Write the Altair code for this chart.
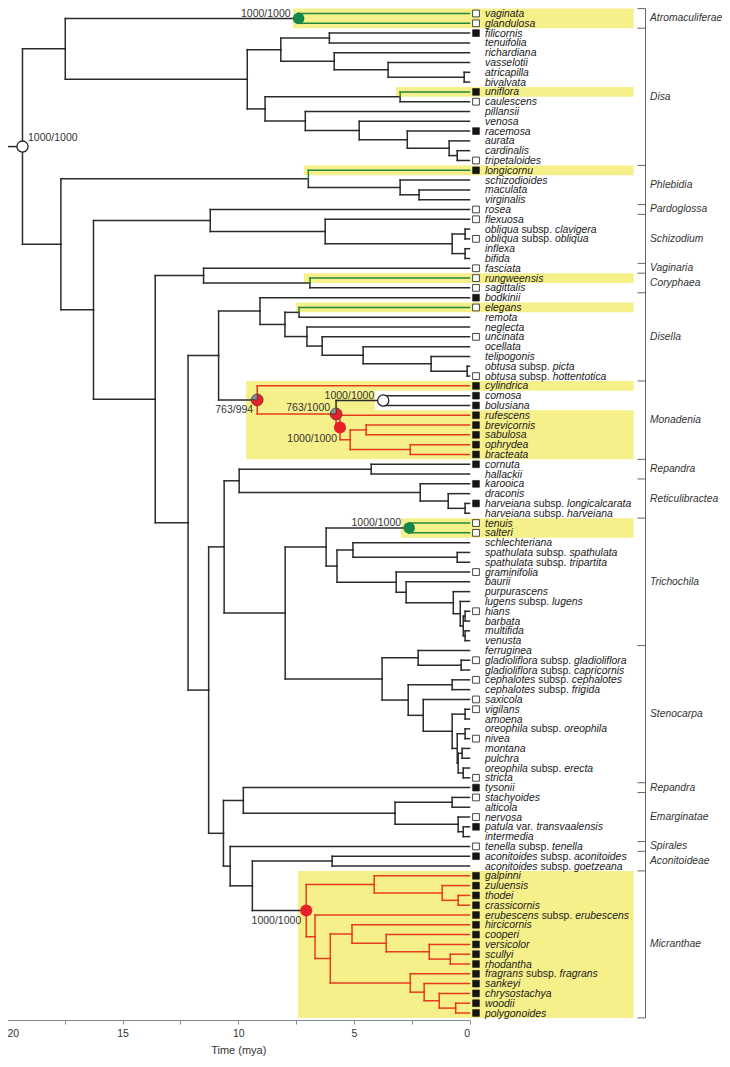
import math
import altair as alt
import pandas as pd

FONT = "Liberation Sans"

# ------------------------------------------------------------------ data
def cl(age, *kids):
    return "(" + ",".join(kids) + ")" + str(age)

ATROM = cl(7.39, "vaginata", "glandulosa")
DISA = cl(9.61,
          cl(8.16, cl(6.06, "filicornis", "tenuifolia"),
             cl(5.85, "richardiana", cl(3.52, "vasselotii", cl(0.23, "atricapilla", "bivalvata")))),
          cl(8.84, cl(3.0, "uniflora", "caulescens"),
             cl(7.1, "pillansii", cl(4.77, "venosa", cl(2.69, "racemosa",
                cl(0.88, "aurata", cl(0.53, "cardinalis", "tripetaloides")))))))
PHLEB = cl(6.97, "longicornu", cl(3.0, "schizodioides", cl(2.18, "maculata", "virginalis")))
SCHIZ = cl(6.24, "flexuosa", cl(0.75, cl(0.19, "obliqua subsp. clavigera", "obliqua subsp. obliqua"),
                                 cl(0.19, "inflexa", "bifida")))
CORY = cl(6.9, "rungweensis", "sagittalis")
DISELLA = cl(9.06, "bodkinii",
             cl(7.98, cl(7.37, "elegans", "remota"),
                cl(7.03, "neglecta", cl(6.37, "uncinata", cl(4.6, "ocellata",
                   cl(1.66, "telipogonis", cl(0.1, "obtusa subsp. picta", "obtusa subsp. hottentotica")))))))
MONAD = cl(9.18, "cylindrica",
           cl(5.77, cl(3.73, "comosa", "bolusiana"),
              cl(5.6, "rufescens", cl(5.16, cl(4.47, "brevicornis", "sabulosa"),
                                        cl(2.56, "ophrydea", "bracteata")))))
REPAN = cl(4.25, "cornuta", "hallackii")
RETIC = cl(2.13, "karooica", cl(0.92, "draconis",
           cl(0.19, "harveiana subsp. longicalcarata", "harveiana subsp. harveiana")))
TRICHO = cl(6.2, cl(2.61, "tenuis", "salteri"),
            cl(5.73, cl(5.04, "schlechteriana", cl(0.53, "spathulata subsp. spathulata", "spathulata subsp. tripartita")),
               cl(3.17, "graminifolia", cl(2.74, "baurii", cl(0.7, "purpurascens",
                  cl(0.4, "lugens subsp. lugens", cl(0.27, cl(0.19, "hians", "barbata"),
                                                         cl(0.19, "multifida", "venusta"))))))))
STENO = cl(3.78, cl(2.22, "ferruginea", cl(0.36, "gladioliflora subsp. gladioliflora", "gladioliflora subsp. capricornis")),
           cl(2.65, cl(0.75, "cephalotes subsp. cephalotes", "cephalotes subsp. frigida"),
              cl(2.0, "saxicola", cl(0.75, cl(0.19, "vigilans", "amoena"),
                 cl(0.53, cl(0.19, "oreophila subsp. oreophila", "nivea"),
                    cl(0.49, cl(0.32, "montana", "pulchra"), cl(0.27, "oreophila subsp. erecta", "stricta")))))))
EMARG = cl(3.22, cl(0.75, "stachyoides", "alticola"),
           cl(0.49, "nervosa", cl(0.27, "patula var. transvaalensis", "intermedia")))
ACONIT = cl(5.94, "aconitoides subsp. aconitoides", "aconitoides subsp. goetzeana")
MICRAN = cl(7.06, cl(4.12, "galpinni", cl(1.18, "zuluensis", cl(0.49, "thodei", "crassicornis"))),
            cl(6.68, "erubescens subsp. erubescens",
               cl(6.02, cl(5.08, "hircicornis", cl(3.6, "cooperi", cl(1.74, "versicolor", cl(0.83, "scullyi", "rhodantha")))),
                  cl(2.56, "fragrans subsp. fragrans", cl(1.96, "sankeyi",
                     cl(1.31, "chrysostachya", cl(0.6, "woodii", "polygonoides")))))))

TREE = cl(19.33,
          cl(17.48, ATROM, DISA),
          cl(17.67, PHLEB,
             cl(16.26, cl(11.21, "rosea", SCHIZ),
                cl(13.59, cl(11.5, "fasciata", CORY),
                   cl(12.17, cl(10.85, DISELLA, MONAD),
                      cl(11.28,
                         cl(10.61, cl(9.96, REPAN, RETIC), cl(7.97, TRICHO, STENO)),
                         cl(10.64, cl(9.78, "tysonii", EMARG),
                            cl(10.35, "tenella subsp. tenella", cl(9.39, ACONIT, MICRAN)))))))))

FILLED_TIPS = ["filicornis", "uniflora", "racemosa", "longicornu", "bodkinii", "cylindrica", "comosa",
               "bolusiana", "rufescens", "brevicornis", "sabulosa", "ophrydea", "bracteata", "cornuta",
               "karooica", "harveiana subsp. longicalcarata", "tysonii", "patula var. transvaalensis",
               "aconitoides subsp. aconitoides", "galpinni", "zuluensis", "thodei", "crassicornis",
               "erubescens subsp. erubescens", "hircicornis", "cooperi", "versicolor", "scullyi",
               "rhodantha", "fragrans subsp. fragrans", "sankeyi", "chrysostachya", "woodii", "polygonoides"]
OPEN_TIPS = ["vaginata", "glandulosa", "caulescens", "tripetaloides", "rosea", "flexuosa",
             "obliqua subsp. obliqua", "fasciata", "rungweensis", "sagittalis", "elegans", "uncinata",
             "obtusa subsp. hottentotica", "tenuis", "salteri", "graminifolia", "hians",
             "gladioliflora subsp. gladioliflora", "cephalotes subsp. cephalotes", "saxicola", "vigilans",
             "nivea", "stricta", "stachyoides", "nervosa", "tenella subsp. tenella"]
GREEN_TIPS = ["vaginata", "glandulosa", "uniflora", "longicornu", "rungweensis", "elegans", "tenuis", "salteri"]
RED_CLADES = [("cylindrica", "bracteata"), ("galpinni", "polygonoides")]
PLAIN_SUBCLADE = ("comosa", "bolusiana")

CLADE_NAMES = ["Atromaculiferae", "Disa", "Phlebidia", "Pardoglossa", "Schizodium", "Vaginaria", "Coryphaea",
               "Disella", "Monadenia", "Repandra", "Reticulibractea", "Trichochila", "Stenocarpa", "Repandra",
               "Emarginatae", "Spirales", "Aconitoideae", "Micranthae"]
CLADE_FIRST = ["vaginata", "filicornis", "longicornu", "rosea", "flexuosa", "fasciata", "rungweensis",
               "bodkinii", "cylindrica", "cornuta", "karooica", "tenuis", "ferruginea", "tysonii",
               "stachyoides", "tenella subsp. tenella", "aconitoides subsp. aconitoides", "galpinni"]
CLADE_LAST = ["glandulosa", "tripetaloides", "virginalis", "rosea", "bifida", "fasciata", "sagittalis",
              "obtusa subsp. hottentotica", "bracteata", "hallackii", "harveiana subsp. harveiana", "venusta",
              "stricta", "tysonii", "intermedia", "tenella subsp. tenella", "aconitoides subsp. goetzeana",
              "polygonoides"]

BOX_RIGHT = -7.1  # mya units (right edge of highlight boxes)
HL_FIRST = ["vaginata", "uniflora", "longicornu", "rungweensis", "elegans", "cylindrica", "comosa",
            "rufescens", "tenuis", "galpinni"]
HL_LAST = ["glandulosa", "uniflora", "longicornu", "rungweensis", "elegans", "cylindrica", "bolusiana",
           "bracteata", "salteri", "polygonoides"]
HL_FROM = [7.63, 3.18, 7.16, 7.16, 7.5, 9.66, 9.66, 9.66, 2.96, 7.42]
HL_TO = [BOX_RIGHT, BOX_RIGHT, BOX_RIGHT, BOX_RIGHT, BOX_RIGHT, BOX_RIGHT, 4.09, BOX_RIGHT, BOX_RIGHT, BOX_RIGHT]

NODE_TIPS = [("vaginata", "polygonoides"), ("vaginata", "glandulosa"), ("cylindrica", "bracteata"),
             ("comosa", "bracteata"), ("comosa", "bolusiana"), ("rufescens", "bracteata"),
             ("tenuis", "salteri"), ("galpinni", "polygonoides")]
NODE_KIND = ["open", "green", "pie", "pie", "open", "red", "green", "red"]
NODE_SUPPORT = ["1000/1000", "1000/1000", "763/994", "763/1000", "1000/1000", "1000/1000", "1000/1000", "1000/1000"]
PIE_FRACTION = 0.763

AXIS_VALUES = [20, 17.5, 15, 12.5, 10, 7.5, 5, 2.5, 0]

# ------------------------------------------------------------------ layout constants
X_RANGE = [-1, 461.5]
Y_RANGE = [5.5, 1005.0]
PX = (X_RANGE[1] - X_RANGE[0]) / 20.0
ROW_PX = (Y_RANGE[1] - Y_RANGE[0]) / 102.0
LABEL_PAD = 15.5
SQUARE_PAD = 6.5
BRACKET_PAD = 176.0
TICK_PAD = 168.0
CLADE_PAD = 180.5
ROOT_STUB = 20.4
FS = 10.4
SUP_DX = [5.5, -8, -4, -6, -9, -3, -8, -5]
SUP_DY = [-9, -4.5, 10, -6, -5, 11, -5, 10]

AW = {'a': 556, 'b': 556, 'c': 500, 'd': 556, 'e': 556, 'f': 278, 'g': 556, 'h': 556, 'i': 222, 'j': 222,
      'k': 500, 'l': 222, 'm': 833, 'n': 556, 'o': 556, 'p': 556, 'q': 556, 'r': 333, 's': 500, 't': 278,
      'u': 556, 'v': 500, 'w': 722, 'x': 500, 'y': 500, 'z': 500, ' ': 278, '.': 278}


def text_w(s):
    return sum(AW.get(ch, 556) for ch in s) / 1000.0 * FS


# ------------------------------------------------------------------ parse tree
def parse_tree(s):
    pos = 0

    def node():
        nonlocal pos
        if s[pos] == "(":
            pos += 1
            kids = [node()]
            while s[pos] == ",":
                pos += 1
                kids.append(node())
            pos += 1
            start = pos
            while pos < len(s) and s[pos] not in ",)":
                pos += 1
            return {"name": None, "age": float(s[start:pos]), "children": kids}
        start = pos
        while s[pos] not in ",)":
            pos += 1
        return {"name": s[start:pos], "age": 0.0, "children": []}

    return node()


root = parse_tree(TREE)
tips = []
all_nodes = []


def layout(n):
    all_nodes.append(n)
    if not n["children"]:
        n["row"] = float(len(tips))
        n["tips"] = {n["name"]}
        tips.append(n)
        return
    for c in n["children"]:
        layout(c)
    n["row"] = (n["children"][0]["row"] + n["children"][-1]["row"]) / 2.0
    n["tips"] = set().union(*(c["tips"] for c in n["children"]))


layout(root)
row_of = {t["name"]: t["row"] for t in tips}
NT = len(tips)


def mrca(a, b):
    best = root
    for n in all_nodes:
        if a in n["tips"] and b in n["tips"] and len(n["tips"]) < len(best["tips"]):
            best = n
    return best


red_roots = [mrca(*p) for p in RED_CLADES]
plain_node = mrca(*PLAIN_SUBCLADE)

segs = [dict(x=ROOT_STUB, x2=root["age"], y=root["row"], y2=root["row"], kind="plain")]


def walk(n, inred):
    red_here = any(n is r for r in red_roots) or (inred and n is not plain_node)
    for c in n["children"]:
        if c["name"] in GREEN_TIPS:
            kind = "tip"
        elif red_here and c is not plain_node:
            kind = "clade"
        else:
            kind = "plain"
        segs.append(dict(x=n["age"], x2=n["age"], y=n["row"], y2=c["row"], kind=kind))
        segs.append(dict(x=n["age"], x2=c["age"], y=c["row"], y2=c["row"], kind=kind))
        walk(c, red_here)


walk(root, False)
seg_df = pd.DataFrame(segs)

# labels
it_rows, nm_rows = [], []
for t in tips:
    parts = t["name"].split(" ")
    r = t["row"]
    it_rows.append(dict(x=-LABEL_PAD / PX, y=r, text=parts[0]))
    if len(parts) == 3:
        o1 = LABEL_PAD + text_w(parts[0] + " ")
        nm_rows.append(dict(x=-o1 / PX, y=r, text=parts[1]))
        o2 = LABEL_PAD + text_w(parts[0] + " " + parts[1] + " ")
        it_rows.append(dict(x=-o2 / PX, y=r, text=parts[2]))
it_df = pd.DataFrame(it_rows)
nm_df = pd.DataFrame(nm_rows)

sq_rows = []
for name in FILLED_TIPS:
    sq_rows.append(dict(x=-SQUARE_PAD / PX, y=row_of[name], status="filled"))
for name in OPEN_TIPS:
    sq_rows.append(dict(x=-SQUARE_PAD / PX, y=row_of[name], status="open"))
sq_df = pd.DataFrame(sq_rows)

hl_df = pd.DataFrame([dict(x=a, x2=b, y=row_of[f] - 0.5, y2=row_of[l] + 0.5)
                      for f, l, a, b in zip(HL_FIRST, HL_LAST, HL_FROM, HL_TO)])

clade_df = pd.DataFrame([dict(x=-CLADE_PAD / PX, y=(row_of[f] + row_of[l]) / 2, text=n)
                         for n, f, l in zip(CLADE_NAMES, CLADE_FIRST, CLADE_LAST)])
bounds = sorted(set([row_of[f] - 0.5 for f in CLADE_FIRST] + [row_of[l] + 0.5 for l in CLADE_LAST]))
tick_df = pd.DataFrame([dict(x=-TICK_PAD / PX, x2=-BRACKET_PAD / PX, y=b) for b in bounds])
brk_df = pd.DataFrame([dict(x=-BRACKET_PAD / PX, y=-0.5, y2=NT - 0.5)])

nodes = [mrca(a, b) for a, b in NODE_TIPS]
node_df = pd.DataFrame([dict(x=n["age"], y=n["row"], kind=k) for n, k in zip(nodes, NODE_KIND)])
pie_rows = []
for n, k in zip(nodes, NODE_KIND):
    if k == "pie":
        pie_rows.append(dict(x=n["age"], y=n["row"], t0=0.0, t1=2 * math.pi * PIE_FRACTION, part="support"))
        pie_rows.append(dict(x=n["age"], y=n["row"], t0=2 * math.pi * PIE_FRACTION, t1=2 * math.pi, part="rest"))
pie_df = pd.DataFrame(pie_rows)

sup_rows = []
for n, s, dx, dy in zip(nodes, NODE_SUPPORT, SUP_DX, SUP_DY):
    sup_rows.append(dict(x=n["age"] - dx / PX, y=n["row"] + dy / ROW_PX, text=s, left=dx > 0))
sup_df = pd.DataFrame(sup_rows)

# ------------------------------------------------------------------ chart
XS = alt.Scale(domain=[20, 0], range=X_RANGE, nice=False, zero=False)
YS = alt.Scale(domain=[0, NT - 1], range=Y_RANGE, nice=False, zero=False)
AXIS = alt.Axis(values=AXIS_VALUES, labelExpr="datum.value % 5 === 0 ? format(datum.value, 'd') : ''",
                title="Time (mya)", grid=False, domainColor="#8a8a8a", tickColor="#8a8a8a", tickSize=4,
                labelFontSize=10.5, labelColor="#333333", labelFont=FONT, titleFont=FONT, titleFontSize=11,
                titleFontWeight="normal", titleColor="#333333", labelFlush=True, labelPadding=4,
                titlePadding=6, domainWidth=1, tickWidth=1)

BLACK, RED, GREEN, GREY = "#2b2b2b", "#e63b1f", "#23883c", "#8c8c8c"
RED_DOT, GREEN_DOT = "#e8202a", "#16874a"


def X(f):
    return alt.X(f, type="quantitative", scale=XS, axis=AXIS)


def Y(f):
    return alt.Y(f, type="quantitative", scale=YS, axis=None)


def sel(df, col, val):
    return df[df[col] == val].reset_index(drop=True)


boxes = alt.Chart(hl_df).mark_rect(color="#f6f08a").encode(X("x"), alt.X2("x2"), Y("y"), alt.Y2("y2"))


def tree_layer(kind, color):
    return alt.Chart(sel(seg_df, "kind", kind)).mark_rule(strokeWidth=1.5, strokeCap="square", color=color).encode(
        X("x"), alt.X2("x2"), Y("y"), alt.Y2("y2"))


tree_plain = tree_layer("plain", BLACK)
tree_clade = tree_layer("clade", RED)
tree_tip = tree_layer("tip", GREEN)

bracket = alt.Chart(brk_df).mark_rule(strokeWidth=1, color="#666666").encode(X("x"), Y("y"), alt.Y2("y2"))
bticks = alt.Chart(tick_df).mark_rule(strokeWidth=1, color="#666666").encode(X("x"), alt.X2("x2"), Y("y"))

sq_filled = alt.Chart(sel(sq_df, "status", "filled")).mark_square(
    size=46, opacity=1, color="#151515", stroke="#151515", strokeWidth=0.6).encode(X("x"), Y("y"))
sq_open = alt.Chart(sel(sq_df, "status", "open")).mark_square(
    size=46, opacity=1, color="#ffffff", stroke="#333333", strokeWidth=0.9).encode(X("x"), Y("y"))

italic = alt.Chart(it_df).mark_text(font=FONT, fontSize=FS, fontStyle="italic", align="left",
                                    baseline="middle", color="#1a1a1a", dy=0.5).encode(X("x"), Y("y"), text="text:N")
normal = alt.Chart(nm_df).mark_text(font=FONT, fontSize=FS, align="left",
                                    baseline="middle", color="#1a1a1a", dy=0.5).encode(X("x"), Y("y"), text="text:N")

clades = alt.Chart(clade_df).mark_text(font=FONT, fontSize=10.3, fontStyle="italic", align="left",
                                       baseline="middle", color="#333333").encode(X("x"), Y("y"), text="text:N")

green_dots = alt.Chart(sel(node_df, "kind", "green")).mark_circle(size=135, opacity=1, color=GREEN_DOT).encode(X("x"), Y("y"))
red_dots = alt.Chart(sel(node_df, "kind", "red")).mark_circle(size=145, opacity=1, color=RED_DOT).encode(X("x"), Y("y"))
opens = alt.Chart(sel(node_df, "kind", "open")).mark_point(
    shape="circle", filled=True, color="#ffffff", stroke="#222222", strokeWidth=1.3, size=125, opacity=1
).encode(X("x"), Y("y"))


def pie_layer(part, color):
    return alt.Chart(sel(pie_df, "part", part)).mark_arc(radius=6, color=color, stroke="#333333", strokeWidth=0.6).encode(
        X("x"), Y("y"), theta=alt.Theta("t0:Q", scale=None, stack=None), theta2=alt.Theta2("t1"))


pie_red = pie_layer("support", RED_DOT)
pie_grey = pie_layer("rest", GREY)

sup_left = alt.Chart(sup_df[sup_df.left].reset_index(drop=True)).mark_text(
    font=FONT, fontSize=10.5, align="left", baseline="middle", color="#333333").encode(X("x"), Y("y"), text="text:N")
sup_right = alt.Chart(sup_df[~sup_df.left].reset_index(drop=True)).mark_text(
    font=FONT, fontSize=10.5, align="right", baseline="middle", color="#333333").encode(X("x"), Y("y"), text="text:N")

chart = alt.layer(boxes, tree_plain, tree_clade, tree_tip, bracket, bticks, sq_filled, sq_open, italic, normal,
                  clades, green_dots, red_dots, opens, pie_red, pie_grey, sup_left, sup_right).properties(
    width=714, height=1012,
    padding={"left": 0, "top": 0, "right": 0, "bottom": 39},
    autosize=alt.AutoSizeParams(type="none"),
).configure_view(stroke=None)

chart.save("out.html", embed_options={"renderer": "svg", "actions": False})
